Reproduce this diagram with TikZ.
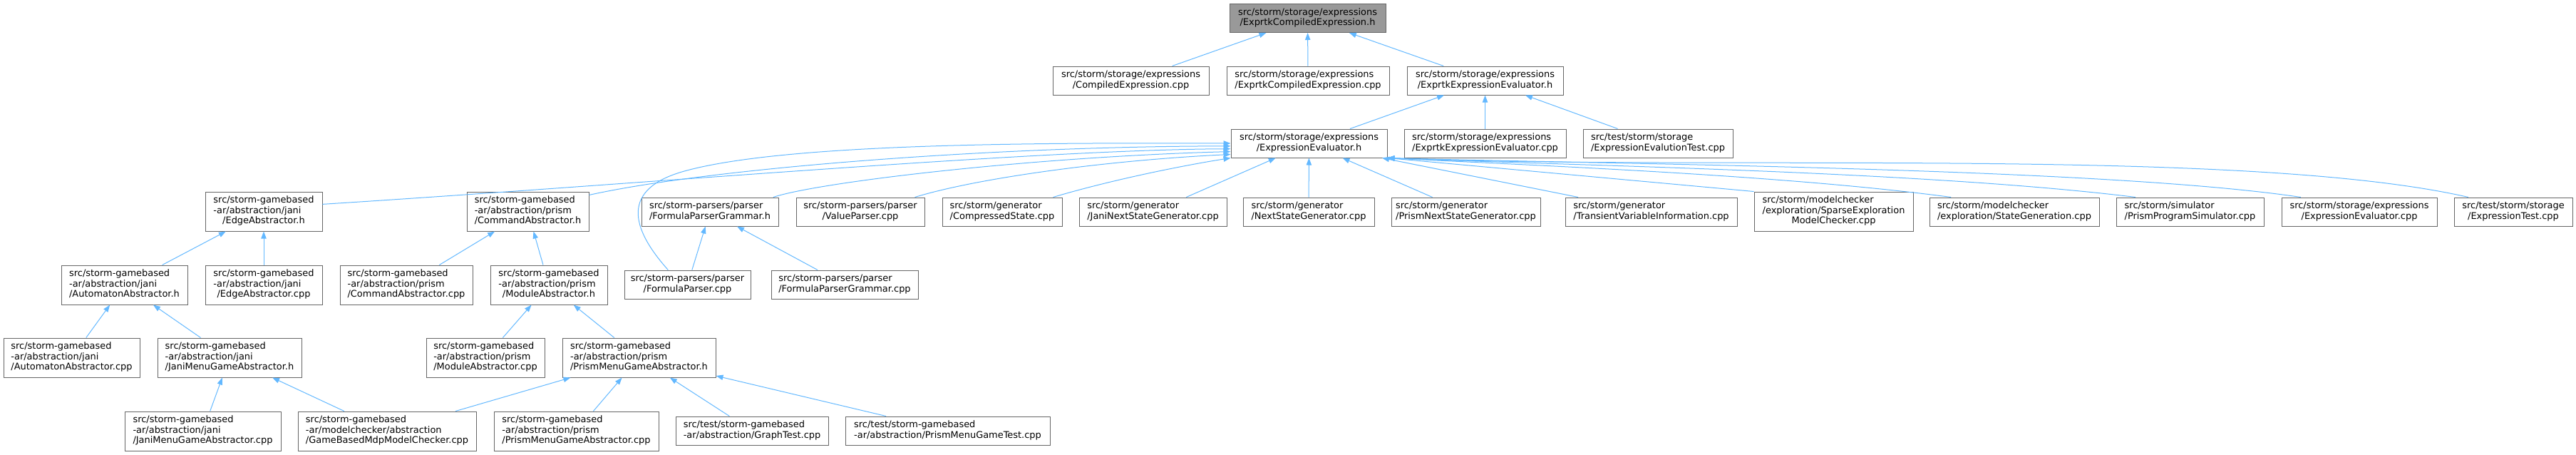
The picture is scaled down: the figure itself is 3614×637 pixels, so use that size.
\documentclass[tikz,border=0pt]{standalone}
\usepackage{fontspec}
\setmainfont{DejaVu Sans}
\usetikzlibrary{arrows.meta}

\definecolor{edgeblue}{HTML}{63B8FF}
\definecolor{boxline}{HTML}{666666}
\definecolor{rootfill}{HTML}{999999}

% first lines left, last line centred
\newcommand{\flbl}[2]{\begin{tabular}{@{}l@{}}#1\\\multicolumn{1}{@{}c@{}}{#2}\end{tabular}}

\tikzset{
    file/.style = {draw = boxline, fill = white, line width = 0.75pt, inner sep = 0pt,
        minimum width = #1*0.75pt, font = \fontsize{9.7}{10.9}\selectfont},
    two/.style = {minimum height = 30pt},
    three/.style = {minimum height = 41.25pt},
    dep/.style = {draw = edgeblue, line width = 0.75pt, -{Triangle[length = 7.5pt, width = 5.5pt]}}
}

\begin{document}
\begin{tikzpicture}[x = 0.75pt, y = -0.75pt]
    \useasboundingbox (0, 0) rectangle (3614, 637);

    % top
    \node[file = 219, two, fill = rootfill] (root) at (1834.5, 25.5) {\flbl{src/storm/storage/expressions}{/ExprtkCompiledExpression.h}};
    \node[file = 219, two] (cexp) at (1586.5, 113) {\flbl{src/storm/storage/expressions}{/CompiledExpression.cpp}};
    \node[file = 228, two] (ecexp) at (1835, 113) {\flbl{src/storm/storage/expressions}{/ExprtkCompiledExpression.cpp}};
    \node[file = 219, two] (eeval) at (2083.5, 113) {\flbl{src/storm/storage/expressions}{/ExprtkExpressionEvaluator.h}};
    \node[file = 219, two] (eval) at (1836.5, 201) {\flbl{src/storm/storage/expressions}{/ExpressionEvaluator.h}};
    \node[file = 227, two] (eevalcpp) at (2083.5, 201) {\flbl{src/storm/storage/expressions}{/ExprtkExpressionEvaluator.cpp}};
    \node[file = 210, two] (evaltest) at (2326, 201) {\flbl{src/test/storm/storage}{/ExpressionEvalutionTest.cpp}};

    % users of ExpressionEvaluator.h
    \node[file = 164, three] (edgeh) at (370, 296.5) {\flbl{src/storm-gamebased\\-ar/abstraction/jani}{/EdgeAbstractor.h}};
    \node[file = 171, three] (cmdh) at (740.5, 296.5) {\flbl{src/storm-gamebased\\-ar/abstraction/prism}{/CommandAbstractor.h}};
    \node[file = 192, two] (fpgh) at (996, 297) {\flbl{src/storm-parsers/parser}{/FormulaParserGrammar.h}};
    \node[file = 180, two] (vp) at (1207, 297) {\flbl{src/storm-parsers/parser}{/ValueParser.cpp}};
    \node[file = 168, two] (cs) at (1406, 297) {\flbl{src/storm/generator}{/CompressedState.cpp}};
    \node[file = 207, two] (jnsg) at (1617.5, 297) {\flbl{src/storm/generator}{/JaniNextStateGenerator.cpp}};
    \node[file = 184, two] (nsg) at (1836, 297) {\flbl{src/storm/generator}{/NextStateGenerator.cpp}};
    \node[file = 209, two] (pnsg) at (2056.5, 297) {\flbl{src/storm/generator}{/PrismNextStateGenerator.cpp}};
    \node[file = 241, two] (tvi) at (2316.5, 297) {\flbl{src/storm/generator}{/TransientVariableInformation.cpp}};
    \node[file = 223, three] (semc) at (2572.5, 296.5) {\flbl{src/storm/modelchecker\\/exploration/SparseExploration}{ModelChecker.cpp}};
    \node[file = 238, two] (sg) at (2826, 297) {\flbl{src/storm/modelchecker}{/exploration/StateGeneration.cpp}};
    \node[file = 207, two] (pps) at (3072.5, 297) {\flbl{src/storm/simulator}{/PrismProgramSimulator.cpp}};
    \node[file = 218, two] (evalcpp) at (3310, 297) {\flbl{src/storm/storage/expressions}{/ExpressionEvaluator.cpp}};
    \node[file = 166, two] (etest) at (3526, 297) {\flbl{src/test/storm/storage}{/ExpressionTest.cpp}};

    % gamebased and parser files
    \node[file = 177, three] (aah) at (174.5, 399.5) {\flbl{src/storm-gamebased\\-ar/abstraction/jani}{/AutomatonAbstractor.h}};
    \node[file = 164, three] (edgecpp) at (370, 399.5) {\flbl{src/storm-gamebased\\-ar/abstraction/jani}{/EdgeAbstractor.cpp}};
    \node[file = 186, three] (cmdcpp) at (570, 399.5) {\flbl{src/storm-gamebased\\-ar/abstraction/prism}{/CommandAbstractor.cpp}};
    \node[file = 164, three] (modh) at (770, 399.5) {\flbl{src/storm-gamebased\\-ar/abstraction/prism}{/ModuleAbstractor.h}};
    \node[file = 177, two] (fpcpp) at (964.5, 399) {\flbl{src/storm-parsers/parser}{/FormulaParser.cpp}};
    \node[file = 206, two] (fpgcpp) at (1185, 399) {\flbl{src/storm-parsers/parser}{/FormulaParserGrammar.cpp}};
    \node[file = 191, three] (aacpp) at (100.5, 501.5) {\flbl{src/storm-gamebased\\-ar/abstraction/jani}{/AutomatonAbstractor.cpp}};
    \node[file = 202, three] (jmgah) at (322, 501.5) {\flbl{src/storm-gamebased\\-ar/abstraction/jani}{/JaniMenuGameAbstractor.h}};
    \node[file = 166, three] (modcpp) at (681, 501.5) {\flbl{src/storm-gamebased\\-ar/abstraction/prism}{/ModuleAbstractor.cpp}};
    \node[file = 215, three] (pmgah) at (896.5, 501.5) {\flbl{src/storm-gamebased\\-ar/abstraction/prism}{/PrismMenuGameAbstractor.h}};
    \node[file = 219, three] (jmgacpp) at (284.5, 604.5) {\flbl{src/storm-gamebased\\-ar/abstraction/jani}{/JaniMenuGameAbstractor.cpp}};
    \node[file = 250, three] (gbmc) at (543, 604.5) {\flbl{src/storm-gamebased\\-ar/modelchecker/abstraction}{/GameBasedMdpModelChecker.cpp}};
    \node[file = 231, three] (pmgacpp) at (808.5, 604.5) {\flbl{src/storm-gamebased\\-ar/abstraction/prism}{/PrismMenuGameAbstractor.cpp}};
    \node[file = 214, two] (graphtest) at (1055, 604) {\flbl{src/test/storm-gamebased}{-ar/abstraction/GraphTest.cpp}};
    \node[file = 287, two] (pmgtest) at (1329.5, 604) {\flbl{src/test/storm-gamebased}{-ar/abstraction/PrismMenuGameTest.cpp}};

    % straight includes
    \foreach \c/\p in {cexp/root, ecexp/root, eeval/root, eval/eeval, eevalcpp/eeval, evaltest/eeval,
            jnsg/eval, nsg/eval, pnsg/eval, tvi/eval, aah/edgeh, edgecpp/edgeh, cmdcpp/cmdh, modh/cmdh,
            fpcpp/fpgh, fpgcpp/fpgh, aacpp/aah, jmgah/aah, modcpp/modh, pmgah/modh, jmgacpp/jmgah,
            gbmc/jmgah, gbmc/pmgah, pmgacpp/pmgah, graphtest/pmgah, pmgtest/pmgah}
        \draw[dep] (\c) -- (\p);
    \draw[dep] (semc.north west) -- (eval.south east);

    % curved includes
    \draw[dep] (edgeh.7) .. controls (900, 258) and (1450, 210) .. (eval.184);
    \draw[dep] (cmdh.15) .. controls (1000, 235) and (1400, 205) .. (eval.182);
    \draw[dep] (fpcpp.143) .. controls (885, 320) and (870, 265) .. (960, 240) .. controls (1100, 201) and (1450, 200) .. (eval.180);
    \draw[dep] (fpgh.13) .. controls (1150, 255) and (1450, 220) .. (eval.186);
    \draw[dep] (vp.15) .. controls (1370, 250) and (1550, 225) .. (eval.188);
    \draw[dep] (cs.16) .. controls (1560, 252) and (1660, 232) .. (eval.south west);
    \draw[dep] (sg.167) .. controls (2500, 245) and (2150, 232) .. (eval.south east);
    \draw[dep] (pps.165) .. controls (2700, 240) and (2200, 232) .. (eval.south east);
    \draw[dep] (evalcpp.166) .. controls (2950, 235) and (2250, 230) .. (eval.south east);
    \draw[dep] (etest.162) .. controls (3150, 205) and (2400, 240) .. (eval.south east);
\end{tikzpicture}
\end{document}
